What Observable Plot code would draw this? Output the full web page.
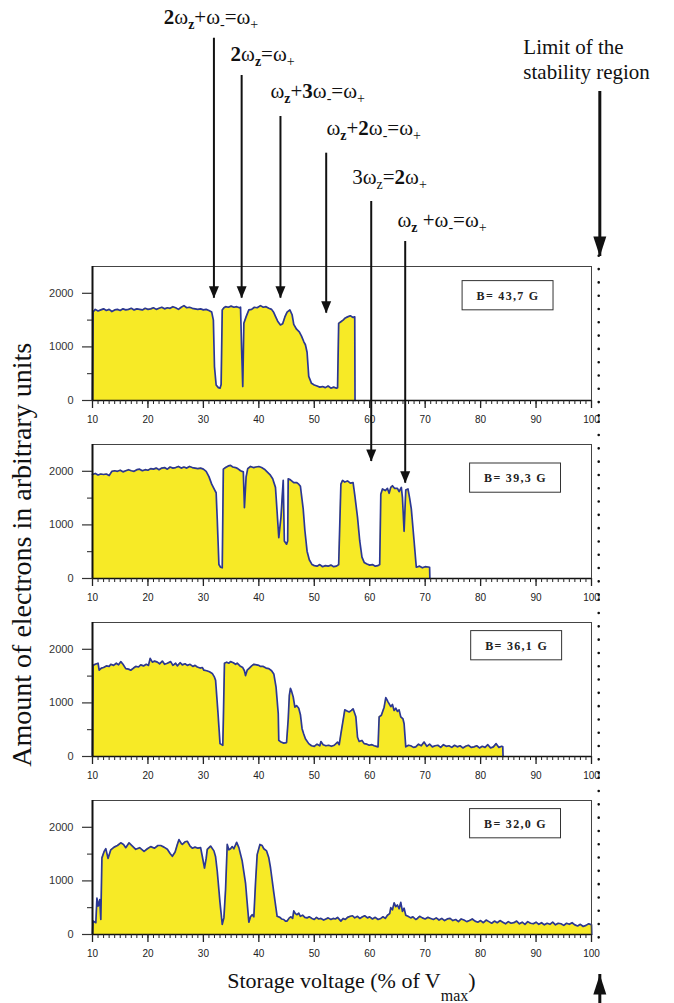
<!DOCTYPE html>
<html><head><meta charset="utf-8">
<script src="https://cdn.jsdelivr.net/npm/d3@7"></script>
<script src="https://cdn.jsdelivr.net/npm/@observablehq/plot@0.6"></script>
<style>body{margin:0;background:#fff}</style>
</head><body><div id="chart"></div>
<script>
// ---------- data ----------
const panels = ["B= 43,7 G", "B= 39,3 G", "B= 36,1 G", "B= 32,0 G"];

// [storage voltage (% of Vmax), amount of electrons (arb. units)]
const scan437 = [
 [10.0,0],[10.1,1650],[10.5,1700],[11,1670],[11.5,1690],[12,1710],[12.5,1680],[13,1700],[13.5,1660],[14,1690],[14.5,1700],
 [15,1680],[15.5,1710],[16,1690],[16.5,1700],[17,1720],[17.5,1690],[18,1710],[18.5,1700],[19,1690],[19.5,1720],
 [20,1700],[20.5,1710],[21,1730],[21.5,1700],[22,1720],[22.5,1740],[23,1710],[23.5,1730],[24,1720],[24.5,1750],
 [25,1730],[25.5,1700],[26,1740],[26.5,1770],[27,1730],[27.5,1740],[28,1720],[28.5,1710],[29,1700],[29.5,1710],
 [30,1690],[30.5,1700],[31,1680],[31.5,1650],[31.8,1500],[32.0,630],[32.3,290],[32.7,240],[33.0,230],[33.2,300],
 [33.4,1690],[33.7,1730],[34,1750],[34.5,1740],[35,1760],[35.5,1740],[36,1750],[36.5,1730],[36.7,1740],[36.9,940],
 [37.1,260],[37.3,1440],[37.7,1560],[38.2,1690],[38.7,1700],[39.2,1740],[39.7,1730],[40.3,1770],[40.8,1740],[41.3,1750],
 [41.8,1720],[42.3,1700],[42.7,1640],[43.0,1570],[43.4,1480],[43.9,1410],[44.3,1430],[44.7,1560],[45.1,1650],[45.6,1690],
 [46.0,1600],[46.3,1420],[46.8,1330],[47.3,1280],[47.7,1200],[48.1,1100],[48.4,1040],[48.7,900],[49.0,450],[49.5,320],
 [50,290],[50.5,270],[51,250],[51.5,260],[52,240],[52.5,270],[53,230],[53.5,250],[54.0,230],[54.2,240],
 [54.4,1440],[54.8,1470],[55.2,1500],[55.6,1540],[56.0,1560],[56.5,1580],[57.0,1550],[57.3,1560],[57.35,0]
];
const scan393 = [
 [10,1940],[10.5,1960],[11,1930],[11.5,1950],[12,1940],[12.5,1950],[13,1920],[13.5,2000],[14,2010],[14.5,2000],
 [15,2020],[15.5,1990],[16,2010],[16.5,2030],[17,2010],[17.5,2000],[18,2030],[18.5,2040],[19,2010],[19.5,2030],
 [20,2020],[20.5,2050],[21,2040],[21.5,2060],[22,2030],[22.5,2060],[23,2070],[23.5,2040],[24,2080],[24.5,2060],
 [25,2070],[25.5,2090],[26,2060],[26.5,2080],[27,2060],[27.5,2090],[28,2070],[28.5,2060],[29,2050],[29.5,2060],
 [30,2040],[30.5,2000],[31,1900],[31.5,1760],[32,1660],[32.3,1600],[32.5,1100],[32.8,260],[33.1,210],[33.4,200],
 [33.6,2040],[34,2070],[34.5,2100],[34.9,2110],[35.3,2080],[35.8,2070],[36.2,2050],[36.7,2010],[37.2,1990],[37.4,1320],
 [37.7,1890],[38.0,2050],[38.5,2090],[39,2070],[39.5,2080],[40,2090],[40.5,2070],[41,2040],[41.5,1990],[42,1940],
 [42.5,1860],[43.0,1700],[43.2,1390],[43.6,760],[44.0,1150],[44.2,1500],[44.4,1830],[44.6,700],[45.0,640],[45.2,700],
 [45.3,1860],[45.7,1840],[46.3,1790],[46.8,1790],[47.2,1760],[47.5,1720],[48.0,1300],[48.3,900],[48.7,510],[49.1,350],
 [49.6,260],[50,240],[50.5,230],[51,260],[51.5,220],[52,240],[52.5,230],[53,250],[53.5,220],[54.0,230],
 [54.4,260],[54.8,1760],[55.1,1830],[55.5,1800],[56,1820],[56.5,1780],[57,1790],[57.3,1560],[57.8,1140],[58.2,700],
 [58.6,400],[59.0,300],[59.5,270],[60,250],[60.5,260],[61,230],[61.5,240],[61.8,260],[62.0,1570],[62.3,1670],
 [62.8,1640],[63.2,1680],[63.5,1590],[63.8,1700],[64.1,1730],[64.5,1680],[65.0,1680],[65.3,1620],[65.7,1700],[65.9,1510],
 [66.2,880],[66.5,1650],[66.9,1670],[67.2,1500],[67.5,1300],[68.0,700],[68.4,210],[69,230],[69.5,200],[70,220],
 [70.8,210],[70.85,0]
];
const scan361 = [
 [10.0,0],[10.1,1700],[10.5,1720],[11.0,1740],[11.2,1610],[11.6,1650],[12,1660],[12.5,1690],[13,1680],[13.3,1720],
 [13.8,1700],[14.3,1740],[14.7,1710],[15.1,1770],[15.5,1720],[16.0,1640],[16.5,1630],[16.9,1610],[17.4,1650],[17.8,1680],
 [18.3,1670],[18.7,1710],[19.2,1690],[19.7,1720],[20.1,1700],[20.4,1830],[20.8,1760],[21.2,1780],[21.7,1760],[22.1,1730],
 [22.6,1780],[23.0,1720],[23.5,1740],[24.1,1770],[24.5,1700],[25.0,1740],[25.3,1690],[25.8,1750],[26.2,1710],[26.7,1730],
 [27.1,1700],[27.6,1720],[28.1,1680],[28.5,1700],[28.9,1670],[29.4,1650],[29.8,1660],[30.1,1610],[30.6,1600],[31.1,1580],
 [31.6,1550],[32.0,1480],[32.2,1420],[32.6,860],[33.0,240],[33.5,210],[33.6,680],[33.8,1740],[34.2,1760],[34.6,1740],
 [34.9,1770],[35.4,1750],[35.8,1720],[36.1,1740],[36.6,1690],[37.1,1660],[37.4,1600],[37.6,1510],[37.9,1610],[38.3,1650],
 [38.7,1690],[39.1,1720],[39.6,1710],[40.0,1700],[40.3,1680],[40.8,1680],[41.3,1650],[41.8,1640],[42.3,1600],[42.7,1540],
 [43.1,1300],[43.5,800],[43.6,300],[44.0,270],[44.5,250],[45.0,260],[45.3,700],[45.5,1140],[45.7,1270],[45.9,1220],
 [46.2,1110],[46.5,920],[46.8,950],[47.2,900],[47.5,780],[47.8,520],[48.1,420],[48.4,330],[49.0,240],[49.5,200],
 [50.0,190],[50.5,230],[51.0,200],[51.2,280],[51.6,220],[52.1,200],[52.6,210],[53.1,190],[53.6,210],[54.2,270],
 [54.5,220],[54.8,420],[55.3,740],[55.5,870],[55.9,850],[56.3,830],[56.7,860],[57.0,890],[57.5,740],[57.8,360],
 [58.1,280],[58.6,300],[59.0,240],[59.5,230],[59.9,210],[60.4,220],[60.8,200],[61.2,190],[61.5,180],[61.7,740],
 [62.1,770],[62.6,920],[62.9,1100],[63.1,1060],[63.3,1020],[63.8,930],[64.1,970],[64.4,860],[64.7,900],[65.0,840],
 [65.3,870],[65.6,740],[66.0,700],[66.2,610],[66.5,180],[67.0,210],[67.4,200],[67.9,170],[68.3,180],[68.8,230],
 [69.3,200],[69.8,270],[70.3,190],[70.8,230],[71.3,180],[71.8,200],[72.3,210],[72.8,170],[73.3,220],[73.8,190],
 [74.3,200],[74.8,170],[75.3,210],[75.8,180],[76.3,200],[76.8,160],[77.3,190],[77.8,210],[78.3,170],[78.8,180],
 [79.3,200],[79.8,160],[80.3,190],[80.8,170],[81.3,220],[81.8,160],[82.3,180],[82.8,240],[83.3,170],[83.8,190],
 [84.0,180],[84.05,0]
];
const scan320 = [
 [10.0,0],[10.1,250],[10.6,220],[10.8,680],[11.0,530],[11.3,650],[11.5,280],[11.7,1430],[12.1,1550],[12.4,1600],
 [12.8,1420],[13.3,1580],[13.9,1630],[14.5,1660],[15.1,1710],[15.6,1680],[16.0,1620],[16.6,1710],[17.2,1650],[17.8,1590],
 [18.5,1620],[19.3,1550],[19.9,1600],[20.5,1640],[21.2,1610],[21.8,1660],[22.3,1660],[22.9,1630],[23.5,1590],[24.0,1510],
 [24.4,1460],[24.9,1540],[25.3,1680],[25.6,1770],[26.0,1700],[26.2,1680],[26.7,1730],[27.1,1740],[27.6,1650],[28.0,1610],
 [28.5,1630],[29.0,1610],[29.5,1620],[29.8,1460],[30.2,1240],[30.5,1420],[30.7,1590],[31.3,1650],[31.9,1560],[32.2,1450],
 [32.5,1180],[33.0,590],[33.4,190],[33.7,310],[34.0,840],[34.3,1680],[34.6,1580],[34.9,1600],[35.2,1640],[35.5,1600],
 [36.0,1720],[36.4,1620],[37.0,1370],[37.6,960],[37.9,590],[38.2,230],[38.5,330],[38.8,370],[39.1,330],[39.4,960],
 [39.7,1490],[40.2,1680],[40.6,1660],[40.9,1600],[41.4,1560],[41.8,1430],[42.1,1250],[42.7,780],[43.3,340],[43.8,320],
 [44.1,290],[44.5,280],[44.8,250],[45.1,250],[45.5,310],[45.8,330],[46.1,300],[46.3,440],[46.6,390],[46.9,370],
 [47.2,400],[47.5,340],[47.9,360],[48.3,320],[48.7,310],[49.1,330],[49.6,300],[50.0,280],[50.4,320],[50.8,290],
 [51.2,300],[51.7,270],[52.1,290],[52.5,310],[53.0,280],[53.4,300],[53.8,290],[54.2,320],[54.8,250],[55.2,300],
 [55.6,280],[56.0,320],[56.5,340],[56.9,350],[57.3,310],[57.8,340],[58.2,300],[58.7,330],[59.1,350],[59.6,310],
 [60.0,330],[60.5,290],[61.0,320],[61.5,280],[62.0,300],[62.4,330],[62.8,300],[63.2,360],[63.6,390],[63.8,500],
 [64.1,460],[64.4,590],[64.7,520],[65.0,550],[65.3,480],[65.6,600],[65.9,430],[66.2,490],[66.5,360],[66.9,340],
 [67.4,310],[67.8,330],[68.3,280],[68.6,300],[69.0,340],[69.5,310],[70.0,290],[70.5,320],[71.0,300],[71.5,280],
 [72.0,310],[72.5,270],[73.0,300],[73.5,260],[74.0,290],[74.5,300],[75.0,260],[75.5,280],[76.0,240],[76.5,290],
 [77.0,270],[77.5,240],[78.0,260],[78.5,290],[79.0,250],[79.5,230],[80.0,260],[80.5,220],[81.0,270],[81.5,240],
 [82.0,210],[82.5,250],[83.0,220],[83.5,260],[84.0,230],[84.5,200],[85.0,240],[85.5,210],[86.0,220],[86.5,250],
 [87.0,200],[87.5,230],[88.0,190],[88.5,240],[89.0,210],[89.5,200],[90.0,230],[90.5,190],[91.0,220],[91.5,180],
 [92.0,210],[92.5,190],[93.0,230],[93.5,180],[94.0,210],[94.5,200],[95.0,170],[95.5,210],[96.0,190],[96.5,220],
 [97.0,180],[97.5,160],[98.0,190],[98.5,150],[99.0,170],[99.5,200],[100.0,180],[100.05,0]
];
const scans = [scan437, scan393, scan361, scan320];

const xTicks = [10, 20, 30, 40, 50, 60, 70, 80, 90, 100];
const yTicks = [0, 1000, 2000];

// resonance annotations (x = storage voltage where the arrow points)
const resonanceLabels = ["*2*ω*_z*+ω_-=ω_+", "*2*ω*_z*=ω_+", "ω*_z*+*3*ω_-=ω_+", "ω*_z*+*2*ω_-=ω_+", "3ω_z=*2*ω_+", "ω*_z* +ω_-=ω_+"];
const resonanceVoltage = [31.9, 36.9, 43.9, 52.15, 60.27, 66.4];
const labelVoltage = [22.86, 34.9, 42.1, 52.2, 56.84, 65.0];
// vertical placement in units of the top panel's y scale
const labelLevel = [7021, 6338, 5640, 4957, 4035, 3228];
const arrowFrom = [6759, 6063, 5299, 4614, 3713, 2966];
const arrowTo = [1909, 1909, 1909, 1629, -1138, -1543];

const limitLabel = "Limit of the\nstability region";
const yLabel = "Amount of electrons in arbitrary units";
const xLabel = "Storage voltage (% of V_{max})";

// B field boxes
const boxVoltage = [84.95, 86.3, 86.5, 86.3];
const boxLevel = [1955, 1873, 2067, 2067];

// ---------- build ----------
const rows = [];
scans.forEach((s, i) => s.forEach(([x, y]) => rows.push({panel: panels[i], x, y})));
const topPanel = panels[0], bottomPanel = panels[3];
const ann = resonanceLabels.map((label, i) => ({panel: topPanel, label, x: resonanceVoltage[i], lx: labelVoltage[i], ly: labelLevel[i], y1: arrowFrom[i], y2: arrowTo[i]}));
const boxes = panels.map((p, i) => ({panel: p, x: boxVoltage[i], y: boxLevel[i]}));
const dotted = panels.map((p, i) => ({panel: p, y1: i === 0 ? 2690 : 2915, y2: i === 3 ? -200 : -420}));
const bigArrows = [{panel: topPanel, y1: 5765, y2: 2687, dir: "down"}, {panel: bottomPanel, y1: -1290, y2: -746, dir: "up"}];

const headDown = {draw(c){c.moveTo(0,0);c.lineTo(-5,-12);c.lineTo(5,-12);c.closePath();}};
const bigDown = {draw(c){c.moveTo(0,0);c.lineTo(-6.5,-20);c.lineTo(6.5,-20);c.closePath();}};
const bigUp = {draw(c){c.moveTo(0,0);c.lineTo(-6.5,20);c.lineTo(6.5,20);c.closePath();}};

const serif = "Liberation Serif, Times New Roman, serif";
const bw = 16.4, bh = 545;

const svg = Plot.plot({
  width: 674, height: 1003,
  marginTop: 265, marginBottom: 68, marginLeft: 92, marginRight: 83,
  x: {domain: [10, 100], axis: null},
  y: {domain: [0, 2500], axis: null},
  fy: {domain: panels, axis: null, paddingInner: 0.25, paddingOuter: 0},
  style: {fontFamily: "Liberation Sans, Arial, sans-serif", background: "white"},
  marks: [
    Plot.area(rows, {x1: "x", y1: 0, y2: "y", fy: "panel", fill: "#f7ea26", curve: "linear"}),
    Plot.line(rows, {x: "x", y: "y", fy: "panel", stroke: "#2b3794", strokeWidth: 1.7}),
    Plot.ruleY([2500], {stroke: "#444", strokeWidth: 1}),
    Plot.ruleX([100], {y1: 0, y2: 2500, stroke: "#444", strokeWidth: 1}),
    Plot.ruleX([10], {y1: 0, y2: 2500, stroke: "#111", strokeWidth: 2}),
    Plot.ruleY([0], {stroke: "#111", strokeWidth: 1.6}),
    Plot.axisX({ticks: d3.range(10, 101, 1), tickSize: 4, tickFormat: () => "", label: null, facetAnchor: null, stroke: "#222"}),
    Plot.axisX({ticks: xTicks, tickSize: 8, tickPadding: 7, tickFormat: d => String(d), label: null, facetAnchor: null, fontSize: 10, color: "#222", strokeWidth: 1.3}),
    Plot.axisY({ticks: [500, 1500], tickSize: 5, tickFormat: () => "", label: null, facetAnchor: null, stroke: "#222"}),
    Plot.axisY({ticks: yTicks, tickSize: 10, tickPadding: 9, tickFormat: d => String(d), label: null, facetAnchor: null, fontSize: 11, color: "#333", strokeWidth: 1.2}),
    // B field boxes
    Plot.rect(boxes, {x1: d => d.x - bw / 2, x2: d => d.x + bw / 2, y1: d => d.y - bh / 2, y2: d => d.y + bh / 2, fy: "panel", fill: "white", stroke: "#333", strokeWidth: 1}),
    Plot.text(boxes, {x: "x", y: "y", fy: "panel", text: d => d.panel, fontFamily: serif, fontWeight: "bold", fontSize: 12, fill: "#222"}),
    // stability limit dotted line
    Plot.ruleX(dotted, {x: 101.3, y1: "y1", y2: "y2", fy: "panel", stroke: "#111", strokeWidth: 2.6, strokeDasharray: "0 13.3", strokeLinecap: "round"}),
    Plot.ruleX(bigArrows, {x: 101.5, y1: "y1", y2: "y2", fy: "panel", stroke: "#111", strokeWidth: 3}),
    Plot.dot(bigArrows.filter(d => d.dir === "down"), {x: 101.5, y: "y2", fy: "panel", symbol: bigDown, fill: "#111", stroke: null}),
    Plot.dot(bigArrows.filter(d => d.dir === "up"), {x: 101.5, y: "y2", fy: "panel", symbol: bigUp, fill: "#111", stroke: null}),
    Plot.text([{panel: topPanel}], {x: 87.7, y: 6002, fy: "panel", text: () => limitLabel, textAnchor: "start", lineAnchor: "bottom", lineHeight: 1.17, fontFamily: serif, fontSize: 21, fill: "#111"}),
    // resonance arrows
    Plot.ruleX(ann, {x: "x", y1: "y1", y2: "y2", fy: "panel", stroke: "#111", strokeWidth: 2}),
    Plot.dot(ann, {x: "x", y: "y2", fy: "panel", symbol: headDown, fill: "#111", stroke: null}),
    Plot.text(ann, {x: "lx", y: "ly", fy: "panel", text: "label", textAnchor: "start", lineAnchor: "bottom", fontFamily: serif, fontSize: 21, fill: "#111"}),
    // axis titles
    Plot.text([{panel: panels[1]}], {x: -2.63, y: 442, fy: "panel", text: () => yLabel, rotate: -90, fontFamily: serif, fontSize: 28, fill: "#111"}),
    Plot.text([{panel: bottomPanel}], {x: 56.7, y: -989, fy: "panel", text: () => xLabel, textAnchor: "middle", lineAnchor: "bottom", fontFamily: serif, fontSize: 22, fill: "#111"})
  ]
});

// rich text: *bold*, _x subscript, _{xyz} subscript
function rich(el, src, shift, subSize) {
  el.textContent = "";
  const ns = "http://www.w3.org/2000/svg";
  let bold = false, down = false, i = 0;
  const add = (txt, sub) => {
    const t = document.createElementNS(ns, "tspan");
    t.textContent = txt;
    if (bold) t.setAttribute("font-weight", "bold");
    if (sub) { t.setAttribute("font-size", subSize); if (!down) { t.setAttribute("dy", shift); down = true; } }
    else if (down) { t.setAttribute("dy", -shift); down = false; }
    el.appendChild(t);
  };
  while (i < src.length) {
    const c = src[i];
    if (c === "*") { bold = !bold; i++; }
    else if (c === "_") {
      let s;
      if (src[i + 1] === "{") { const j = src.indexOf("}", i); s = src.slice(i + 2, j); i = j + 1; }
      else { s = src[i + 1]; i += 2; }
      add(s, true);
    } else {
      let s = "";
      while (i < src.length && src[i] !== "*" && src[i] !== "_") s += src[i++];
      add(s, false);
    }
  }
}
d3.select(svg).selectAll("text").each(function () {
  const s = this.textContent;
  if (s.startsWith("B=")) { this.setAttribute("letter-spacing", "1.3"); return; }
  if (s.startsWith("Storage")) { rich(this, s, 13, 16); return; }
  if (s.includes("_") || s.includes("*")) rich(this, s, 5, 14);
});
document.getElementById("chart").appendChild(svg);
</script>
</body></html>
